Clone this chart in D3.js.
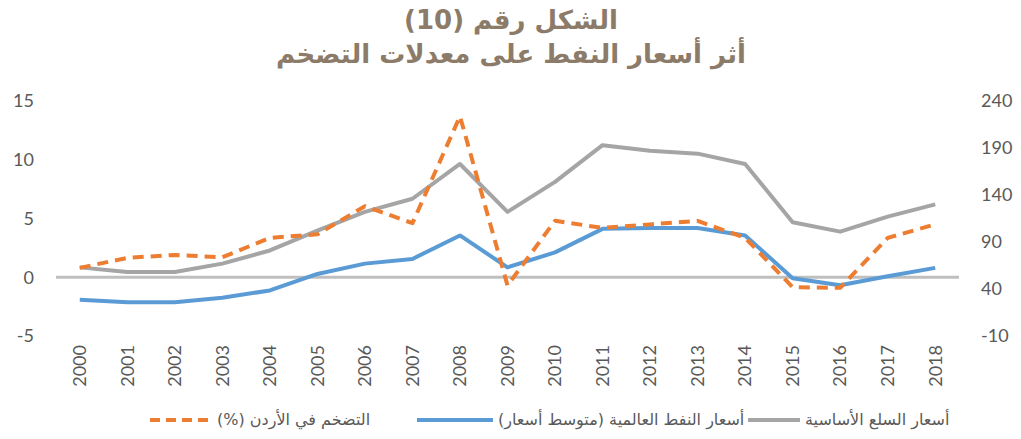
<!DOCTYPE html>
<html>
<head>
<meta charset="utf-8">
<script src="https://cdn.jsdelivr.net/npm/d3@7"></script>
<style>
  body { margin: 0; background: #ffffff; }
  .tick-label { font-family: Lato, "Open Sans", sans-serif; font-size: 18px; fill: #595959; }
  .legend-text { font-family: "DejaVu Sans", sans-serif; font-size: 16px; fill: #595959; }
</style>
</head>
<body>
<div class="svg-wrapper"></div>
<script>
const years = ["2000","2001","2002","2003","2004","2005","2006","2007","2008","2009",
               "2010","2011","2012","2013","2014","2015","2016","2017","2018"];

// right axis
const commodityPrices = [63, 58, 58, 67, 81, 102, 122, 136, 173, 122,
                         154, 193, 187, 184, 173, 111, 101, 117, 130];
const oilPrices = [28.6, 26, 26, 30.7, 38.5, 56, 67, 72, 97, 63,
                   79, 104, 105, 105, 97, 51.5, 44, 53.5, 62.5];
// left axis
const inflation = [0.8, 1.65, 1.9, 1.7, 3.35, 3.65, 6.05, 4.6, 13.7, -0.7,
                   4.8, 4.2, 4.5, 4.8, 3.35, -0.85, -0.9, 3.35, 4.5];

const leftTicks = [-5, 0, 5, 10, 15];
const rightTicks = [-10, 40, 90, 140, 190, 240];

const titleLines = ["الشكل رقم (10)", "أثر أسعار النفط على معدلات التضخم"];
const legendNames = ["أسعار السلع الأساسية", "أسعار النفط العالمية (متوسط أسعار)", "التضخم في الأردن (%)"];

const width = 1021, height = 439;

const svg = d3.select(".svg-wrapper")
  .append("svg")
  .attr("width", width)
  .attr("height", height);

const colors = { gray: "#a5a5a5", blue: "#5b9bd5", orange: "#ed7d31" };

// title
svg.selectAll(".title")
  .data(titleLines)
  .enter()
  .append("text")
    .attr("class", "title")
    .attr("x", 511)
    .attr("y", (d, i) => i == 0 ? 29 : 63)
    .attr("text-anchor", "middle")
    .style("font-family", "'DejaVu Sans', sans-serif")
    .style("font-weight", "bold")
    .style("font-size", "26px")
    .style("fill", "#8b7b68")
    .text(d => d);

const xScale = d3.scaleBand()
  .domain(years)
  .range([56, 959]);
const xValue = d => xScale(d) + xScale.bandwidth() / 2;

const yLeft = d3.scaleLinear().domain([-5, 15]).range([336, 101]);
const yRight = d3.scaleLinear().domain([-10, 240]).range([336, 101]);

// zero line
svg.append("line")
  .attr("x1", 56)
  .attr("x2", 959)
  .attr("y1", yLeft(0))
  .attr("y2", yLeft(0))
  .style("stroke", "#bfbfbf")
  .style("stroke-width", 3);

// axes (plain hyphen for negatives, like the original)
const plain = d => String(d);

const yAxisL = svg.append("g")
  .attr("transform", "translate(40,0)")
  .call(d3.axisLeft(yLeft).tickValues(leftTicks).tickFormat(plain).tickSize(0).tickPadding(6));
yAxisL.selectAll(".domain").remove();

const yAxisR = svg.append("g")
  .attr("transform", "translate(975,0)")
  .call(d3.axisRight(yRight).tickValues(rightTicks).tickFormat(plain).tickSize(0).tickPadding(6));
yAxisR.selectAll(".domain").remove();

const xAxis = svg.append("g")
  .attr("transform", "translate(0,345)")
  .call(d3.axisBottom(xScale).tickSize(0));
xAxis.selectAll(".domain").remove();
xAxis.selectAll("text")
  .attr("x", 0)
  .attr("y", 0)
  .attr("dy", "0.35em")
  .attr("transform", "rotate(-90)")
  .style("text-anchor", "end");

svg.selectAll(".tick text")
  .attr("class", "tick-label")
  .attr("fill", null);

// lines
const lineRight = d3.line()
  .x((d, i) => xValue(years[i]))
  .y(d => yRight(d));
const lineLeft = d3.line()
  .x((d, i) => xValue(years[i]))
  .y(d => yLeft(d));

svg.append("path")
  .attr("d", lineRight(commodityPrices))
  .style("fill", "none")
  .style("stroke", colors.gray)
  .style("stroke-width", 4)
  .style("stroke-linejoin", "round");

svg.append("path")
  .attr("d", lineRight(oilPrices))
  .style("fill", "none")
  .style("stroke", colors.blue)
  .style("stroke-width", 4)
  .style("stroke-linejoin", "round");

svg.append("path")
  .attr("d", lineLeft(inflation))
  .style("fill", "none")
  .style("stroke", colors.orange)
  .style("stroke-width", 4)
  .style("stroke-dasharray", "11,7")
  .style("stroke-linejoin", "round");

// legend: sample line, then its label starting just right of it
const legendY = 420;
const legendItems = [
  { name: legendNames[0], color: colors.gray, dash: null, x1: 748, x2: 800 },
  { name: legendNames[1], color: colors.blue, dash: null, x1: 417, x2: 493 },
  { name: legendNames[2], color: colors.orange, dash: "10,6", x1: 150, x2: 212 }
];

legendItems.forEach(function(item){
  svg.append("line")
    .attr("x1", item.x1)
    .attr("x2", item.x2)
    .attr("y1", legendY)
    .attr("y2", legendY)
    .style("stroke", item.color)
    .style("stroke-width", 4)
    .style("stroke-dasharray", item.dash);

  svg.append("text")
    .attr("class", "legend-text")
    .attr("x", item.x2 + 5)
    .attr("y", legendY)
    .attr("direction", "rtl")
    .attr("text-anchor", "end")
    .attr("dominant-baseline", "middle")
    .text(item.name);
});
</script>
</body>
</html>
